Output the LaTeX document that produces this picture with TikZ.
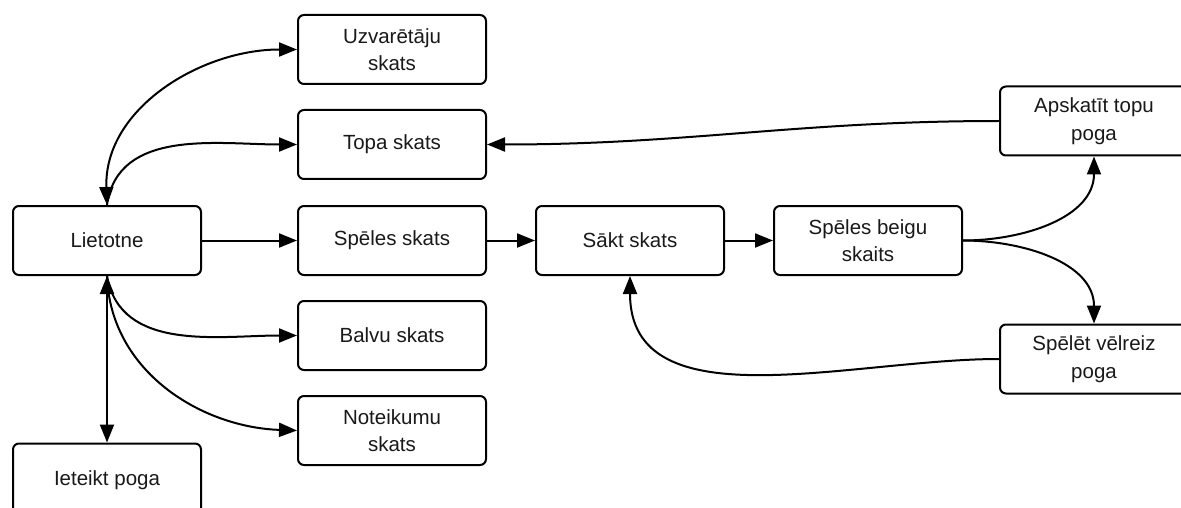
\documentclass[tikz,border=0pt]{standalone}
\usepackage{fontspec}
\setmainfont{Liberation Sans}
\usetikzlibrary{arrows.meta}
\tikzset{
  box/.style={draw, line width=2pt, rounded corners=6pt, minimum width=188pt, minimum height=69pt,
    align=center, inner sep=0pt, text=black!90, font=\fontsize{20.5}{27.5}\selectfont},
  conn/.style={line width=2pt, -{Triangle[length=18pt,width=14pt]}},
  bconn/.style={line width=2pt, {Triangle[length=18pt,width=14pt]}-{Triangle[length=18pt,width=14pt]}}
}
\begin{document}
\begin{tikzpicture}[x=1pt,y=-1pt]
\useasboundingbox (0,0) rectangle (1181,508);
\node[box] (lie) at (107,240.5) {Lietotne};
\node[box, minimum height=75pt] (iet) at (107,481) {\raisebox{6pt}{Ieteikt poga}};
\node[box] (uzv) at (392,49.5) {Uzvarētāju\\skats};
\node[box] (topa) at (392,144.5) {Topa skats};
\node[box] (spel) at (392,240.5) {Spēles skats};
\node[box] (balvu) at (392,335.5) {Balvu skats};
\node[box] (not) at (392,430.5) {Noteikumu\\skats};
\node[box] (sakt) at (630,240.5) {Sākt skats};
\node[box] (beigu) at (868,240.5) {Spēles beigu\\skaits};
\node[box] (apsk) at (1094,121) {Apskatīt topu\\poga};
\node[box] (velr) at (1094,359) {Spēlēt vēlreiz\\poga};

\draw[bconn] (lie.north) to[out=92,in=180] (uzv.west);
\draw[conn] (lie.north) to[out=82,in=180] (topa.west);
\draw[conn] (lie.east) -- (spel.west);
\draw[bconn] (lie.south) -- (iet.north);
\draw[conn] (lie.south) to[out=-80,in=180] (balvu.west);
\draw[conn] (lie.south) to[out=-88,in=178] (not.west);
\draw[conn] (spel.east) -- (sakt.west);
\draw[conn] (sakt.east) -- (beigu.west);
\draw[conn] (beigu.east) to[out=0,in=-90] (apsk.south);
\draw[conn] (beigu.east) to[out=0,in=90] (velr.north);
\draw[conn] (apsk.west) to[out=180,in=0] (topa.east);
\draw[conn] (velr.west) to[out=180,in=-90] (sakt.south);
\end{tikzpicture}
\end{document}
